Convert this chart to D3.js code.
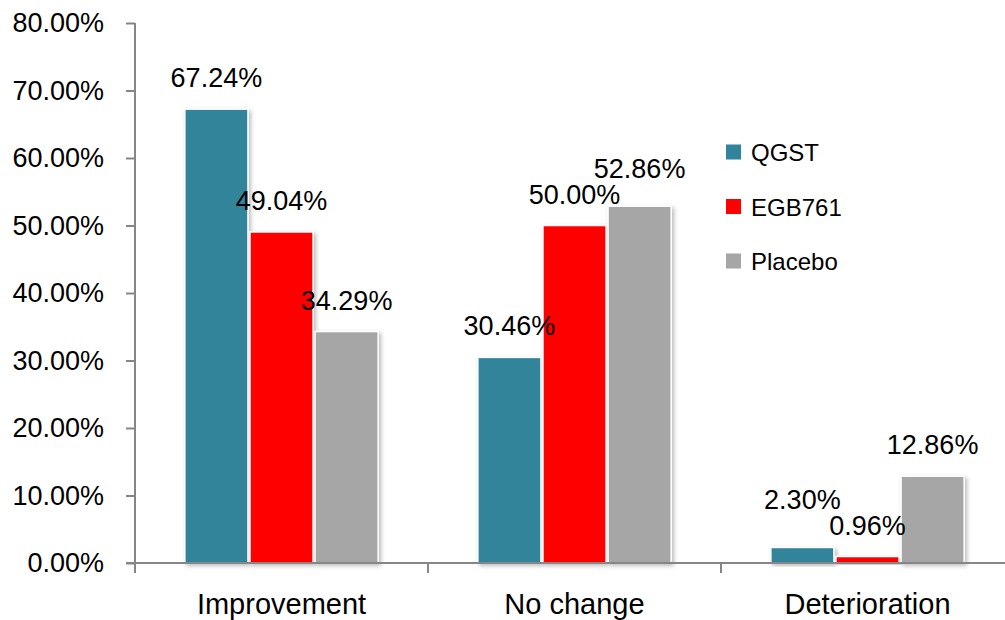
<!DOCTYPE html>
<html>
<head>
<meta charset="utf-8">
<script src="https://cdn.jsdelivr.net/npm/d3@7"></script>
<style>
  html, body { margin: 0; padding: 0; background: #fff; }
  svg { display: block; font-family: "Liberation Sans", Arial, sans-serif; }
</style>
</head>
<body>
<svg id="chart" width="1005" height="620"></svg>
<script>
// Outcome categories and treatment groups
const categories = ["Improvement", "No change", "Deterioration"];
const seriesNames = ["QGST", "EGB761", "Placebo"];
const qgst = [67.24, 30.46, 2.30];
const egb761 = [49.04, 50.00, 0.96];
const placebo = [34.29, 52.86, 12.86];
const yTicks = [0, 10, 20, 30, 40, 50, 60, 70, 80];

const seriesValues = [qgst, egb761, placebo];
const colors = ["#31849B", "#FF0000", "#A6A6A6"];

const svg = d3.select("#chart");
const margin = { left: 135, top: 23, bottom: 57 };
const W = 1005, H = 620;
const plotRight = 1014;
const y0 = H - margin.bottom; // baseline

const x = d3.scaleBand().domain(categories).range([margin.left, plotRight]).paddingInner(0).paddingOuter(0);
const xs = d3.scaleBand().domain(seriesNames).range([0, x.bandwidth()]).paddingOuter(0.75).paddingInner(0.0);
const y = d3.scaleLinear().domain([0, 80]).range([y0, margin.top]);

// soft shadow under each bar
const defs = svg.append("defs");
const f = defs.append("filter").attr("id", "shadow").attr("x", "-20%").attr("y", "-20%").attr("width", "140%").attr("height", "140%");
f.append("feDropShadow").attr("dx", 2).attr("dy", 2).attr("stdDeviation", 2.2)
  .attr("flood-color", "#000").attr("flood-opacity", 0.28);

// bars
const rows = [];
categories.forEach((c, ci) => seriesNames.forEach((s, si) => rows.push({ c, s, si, v: seriesValues[si][ci] })));

svg.append("g").selectAll("rect").data(rows).join("rect")
  .attr("x", d => x(d.c) + xs(d.s) + 1)
  .attr("y", d => y(d.v))
  .attr("width", xs.bandwidth() - 2)
  .attr("height", d => y0 - y(d.v))
  .attr("fill", d => colors[d.si])
  .attr("stroke", "#fff")
  .attr("stroke-width", 1.5)
  .attr("filter", "url(#shadow)");

// axes
const axisColor = "#868686";
const yAxis = svg.append("g").attr("transform", `translate(${margin.left},0)`)
  .call(d3.axisLeft(y).tickValues(yTicks).tickSize(9).tickPadding(22).tickFormat(d => d.toFixed(2) + "%"));
yAxis.select(".domain").attr("stroke", axisColor).attr("stroke-width", 2).attr("d", `M0,${margin.top}V${y0}`);
yAxis.selectAll(".tick line").attr("stroke", axisColor).attr("stroke-width", 2);
yAxis.selectAll(".tick text").attr("font-size", 27).attr("fill", "#000").attr("font-family", "Liberation Sans, Arial, sans-serif");

const xAxis = svg.append("g").attr("transform", `translate(0,${y0})`);
xAxis.append("line").attr("x1", margin.left - 9).attr("x2", W).attr("stroke", axisColor).attr("stroke-width", 2);
const bounds = categories.map(c => x(c)).concat([x(categories[categories.length - 1]) + x.bandwidth()]);
xAxis.selectAll(".sep").data(bounds).join("line")
  .attr("x1", d => d).attr("x2", d => d).attr("y1", 0).attr("y2", 10)
  .attr("stroke", axisColor).attr("stroke-width", 2);
xAxis.selectAll(".cat").data(categories).join("text")
  .attr("x", d => x(d) + x.bandwidth() / 2).attr("y", 51)
  .attr("text-anchor", "middle").attr("font-size", 29).attr("fill", "#000")
  .text(d => d);

// value labels above bars; within a group, the higher of two neighbouring
// labels is lifted so the pair keeps a minimum vertical gap
const minGap = 26;
rows.forEach(d => { d.ly = y(d.v) - 22; });
categories.forEach(c => {
  const g = rows.filter(r => r.c === c);
  for (let i = 0; i < g.length - 1; i++) {
    const a = g[i], b = g[i + 1];
    if (Math.abs(a.ly - b.ly) < minGap) {
      if (a.ly < b.ly) a.ly = b.ly - minGap; else b.ly = a.ly - minGap;
    }
  }
});
svg.append("g").selectAll("text").data(rows).join("text")
  .attr("x", d => x(d.c) + xs(d.s) + xs.bandwidth() / 2)
  .attr("y", d => d.ly)
  .attr("text-anchor", "middle").attr("font-size", 27).attr("fill", "#000")
  .text(d => d.v.toFixed(2) + "%");

// legend
const legend = svg.append("g").attr("transform", "translate(726,152)");
seriesNames.forEach((s, i) => {
  const g = legend.append("g").attr("transform", `translate(0,${i * 54.5})`);
  g.append("rect").attr("x", 0).attr("y", -7.5).attr("width", 15).attr("height", 15).attr("fill", colors[i]);
  g.append("text").attr("x", 25).attr("y", 9).attr("font-size", 24).attr("fill", "#000").text(s);
});
</script>
</body>
</html>
